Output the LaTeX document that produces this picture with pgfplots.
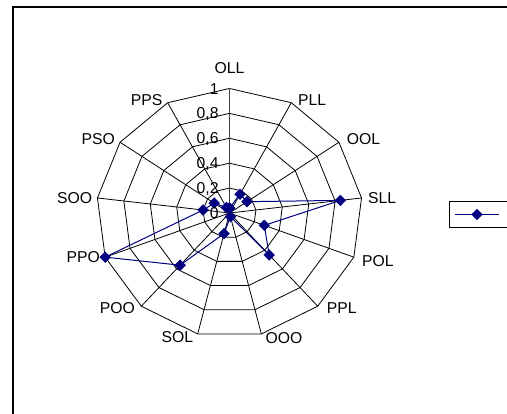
\documentclass[border=0pt]{standalone}
\usepackage{pgfplots}
\usepackage{pgfplotstable}
\pgfplotsset{compat=1.18}
\usepackage{fontspec}
\setmainfont{Liberation Sans}

\definecolor{navy}{RGB}{0,0,128}

% series values per category: OLL PLL OOL SLL POL PPL OOO SOL POO PPO SOO PSO PPS (OLL again)
% a = direction in degrees (categories clockwise from the top), v = value
\pgfplotstableread{
a v
90 0.04
62.3077 0.17
34.6154 0.16
6.9231 0.84
-20.7692 0.28
-48.4615 0.45
-76.1538 0.03
-103.8462 0.17
-131.5385 0.56
-159.2308 1.00
-186.9231 0.20
-214.6154 0.14
-242.3077 0.05
-270 0.04
}\series

\newcommand{\catlabel}[5]{%
  \node[anchor=#2, inner sep=0pt] at ({172.125pt+99.75pt*cos(#1)+#3},{150.75pt+93.4pt*sin(#1)+#4}) {#5};}
\newcommand{\ticklabel}[2]{%
  \node[anchor=base east, inner sep=0pt] at (164.1pt,{150.75pt+93.4pt*#1-4.2pt}) {#2};}

\begin{document}
\begin{tikzpicture}[font=\fontsize{11.8pt}{14pt}\selectfont]
% chart area frame
\draw[line width=1pt] (9.75pt,-20pt) -- (9.75pt,305.25pt) -- (400pt,305.25pt);

\begin{axis}[
  at={(72.375pt,57.35pt)}, anchor=south west,
  x=99.75pt, y=93.4pt,
  xmin=-1, xmax=1, ymin=-1, ymax=1,
  hide axis, clip=false,
  data cs=polar,
  gridline/.style={black, line width=0.6pt, mark=none, forget plot},
  legend style={
    at={(1.3252,0.5482)}, anchor=north west,
    draw=black, line width=0.75pt,
    inner xsep=3.75pt, inner ysep=0pt,
    nodes={inner sep=0pt, minimum height=19.5pt, anchor=center},
    font=\fontsize{11.8pt}{14pt}\selectfont,
  },
  legend image code/.code={%
    \draw[mark repeat=2, mark phase=2, #1] plot coordinates {(0pt,0pt) (16.5pt,0pt) (33pt,0pt)};},
]
% polygon gridlines
\addplot[gridline] table[x=a, y expr=0.2]{\series};
\addplot[gridline] table[x=a, y expr=0.4]{\series};
\addplot[gridline] table[x=a, y expr=0.6]{\series};
\addplot[gridline] table[x=a, y expr=0.8]{\series};
\addplot[gridline] table[x=a, y expr=1.0]{\series};
% spokes
\pgfplotsinvokeforeach{62.3077,34.6154,6.9231,-20.7692,-48.4615,-76.1538,-103.8462,-131.5385,-159.2308,-186.9231,-214.6154,-242.3077}{
  \addplot[gridline] coordinates {(#1,0) (#1,1)};
}
% value axis
\addplot[gridline, color=black!75, line width=0.8pt] coordinates {(90,0) (90,1)};

\addplot[color=navy, line width=0.75pt, mark=diamond*,
  mark size=3.75pt, mark options={xscale=1.33, solid, fill=navy}]
  table[x=a, y=v]{\series};
\addlegendentry{\hspace*{60pt}}
\end{axis}

% value tick labels
\ticklabel{0}{0}
\ticklabel{0.2}{0,2}
\ticklabel{0.4}{0,4}
\ticklabel{0.6}{0,6}
\ticklabel{0.8}{0,8}
\ticklabel{1}{1}

% category labels
\catlabel{90}{south}{0pt}{11pt}{OLL}
\catlabel{62.3077}{west}{5pt}{2pt}{PLL}
\catlabel{34.6154}{west}{5.8pt}{2.5pt}{OOL}
\catlabel{6.9231}{west}{4.7pt}{0pt}{SLL}
\catlabel{-20.7692}{west}{6pt}{-3pt}{POL}
\catlabel{-48.4615}{west}{6.75pt}{-1.5pt}{PPL}
\catlabel{-76.1538}{west}{3pt}{-3pt}{OOO}
\catlabel{-103.8462}{east}{-3.3pt}{-2.5pt}{SOL}
\catlabel{-131.5385}{east}{-4.7pt}{-1.5pt}{POO}
\catlabel{-159.2308}{east}{-3.75pt}{0pt}{PPO}
\catlabel{173.0769}{east}{-3.75pt}{0pt}{SOO}
\catlabel{145.3846}{east}{-3.75pt}{2.5pt}{PSO}
\catlabel{117.6923}{east}{-3.75pt}{2pt}{PPS}

\pgfresetboundingbox
\path[use as bounding box] (0pt,0pt) rectangle (380.25pt,310.5pt);
\end{tikzpicture}
\end{document}
